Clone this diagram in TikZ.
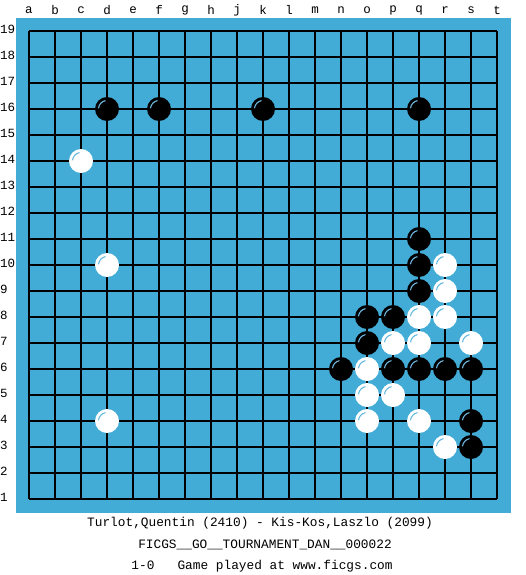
\documentclass[tikz,border=0pt]{standalone}
\usepackage{fontspec}
\setmonofont{Liberation Mono}
\definecolor{board}{RGB}{66,172,214}
\definecolor{hiliteb}{RGB}{110,185,225}
\definecolor{hilitew}{RGB}{100,185,225}
\begin{document}
\begin{tikzpicture}[x=1pt,y=-1pt,
  blackstone/.style={circle,fill=black,minimum size=24pt,inner sep=0pt},
  whitestone/.style={circle,fill=white,minimum size=24pt,inner sep=0pt},
  gridline/.style={line width=1.1pt,black},
  lbl/.style={font=\ttfamily\fontsize{12.5}{14}\selectfont,inner sep=0pt},
  info/.style={font=\ttfamily\fontsize{12.8}{14}\selectfont,inner sep=0pt}]
\useasboundingbox (0,0) rectangle (525,575);
\fill[white] (0,0) rectangle (525,575);
\fill[board] (16,18) rectangle (511,513);
\foreach \i in {0,...,18} {
  \draw[gridline] (29+26*\i,31) -- (29+26*\i,499);
  \draw[gridline] (29,31+26*\i) -- (497,31+26*\i);
}
\foreach \l [count=\i from 0] in {a,b,c,d,e,f,g,h,j,k,l,m,n,o,p,q,r,s,t}
  \node[lbl] (col\l) at (29+26*\i,10) {\l};
\foreach \r in {1,...,19}
  \node[lbl,anchor=west] (row\r) at (0,29+26*19-26*\r) {\r};
% black stones
\foreach \c/\r in {3/16,5/16,9/16,15/16,15/11,15/10,15/9,13/8,14/8,13/7,12/6,14/6,15/6,16/6,17/6,17/4,17/3} {
  \node[blackstone] (b\c-\r) at (29+26*\c,31+26*19-26*\r) {};
  \draw[hiliteb,line width=1.1pt] (b\c-\r.center) ++(260:8.5) arc[start angle=260,end angle=185,radius=8.5];
}
% white stones
\foreach \c/\r in {2/14,3/10,3/4,16/10,16/9,15/8,16/8,14/7,15/7,17/7,13/6,13/5,14/5,13/4,15/4,16/3} {
  \node[whitestone] (w\c-\r) at (29+26*\c,31+26*19-26*\r) {};
  \draw[hilitew,line width=1.1pt] (w\c-\r.center) ++(260:8.5) arc[start angle=260,end angle=185,radius=8.5];
}
\node[info] (players) at (260,523) {Turlot,Quentin (2410) - Kis-Kos,Laszlo (2099)};
\node[info] (event) at (265,545) {FICGS\_\_GO\_\_TOURNAMENT\_DAN\_\_000022};
\node[info] (result) at (262,566) {1-0\ \ \ Game played at www.ficgs.com};
\end{tikzpicture}
\end{document}
